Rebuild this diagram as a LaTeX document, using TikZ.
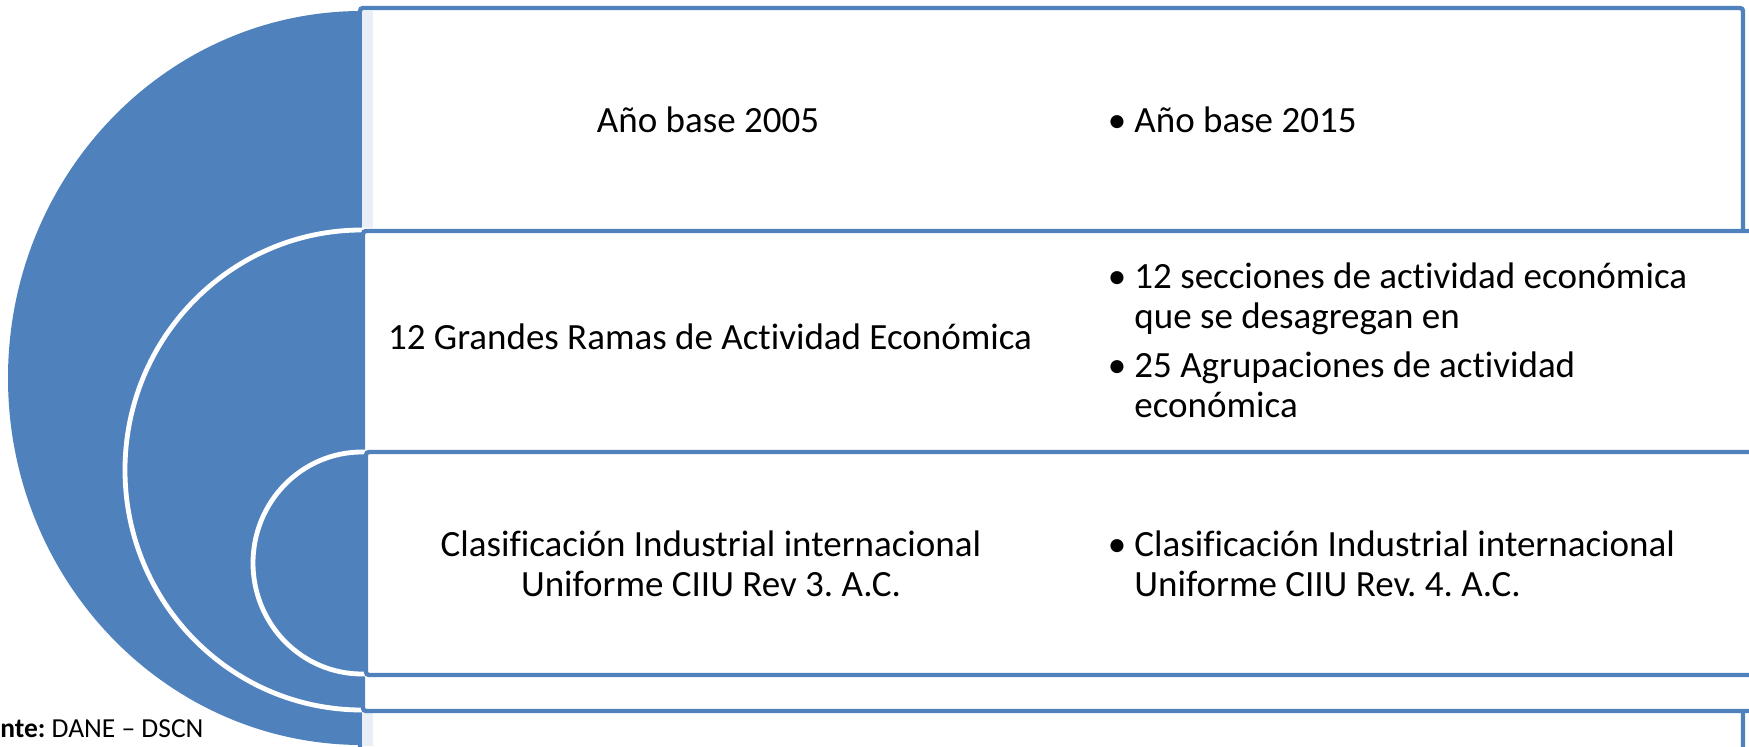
\documentclass[tikz,border=0pt]{standalone}
\usepackage{fontspec}
\setmainfont{Carlito}[Ligatures=NoCommon]
\frenchspacing
\definecolor{dblue}{HTML}{4F81BD}
\definecolor{stripblue}{HTML}{EAEFF7}
\tikzset{
  ring/.style={fill=dblue},
  ringline/.style={fill=dblue,draw=white,line width=2.4pt},
  rowbox/.style={draw=dblue,fill=white,line width=2.2pt,rounded corners=1.5pt},
  txt/.style={font=\fontsize{18.5}{20}\selectfont,inner sep=0pt,align=center},
  bul/.style={font=\fontsize{18.5}{20}\selectfont,inner sep=0pt,align=left,anchor=west}
}
\newcommand{\bl}{\llap{\textbullet\hspace{4pt}}}
\begin{document}
\begin{tikzpicture}[x=0.5pt,y=-0.5pt]
            \useasboundingbox (0,0) rectangle (1749,747);
            \fill[ring] (362,378) ellipse [x radius=354, y radius=367];
            \draw[rowbox] (360,8) rectangle (1743,752);
            \fill[stripblue] (362.5,10.5) rectangle (373,746);
            \draw[ringline] (362,470) ellipse [x radius=237, y radius=240];
            \draw[rowbox] (363,231) rectangle (1765,711);
            \draw[ringline] (362,563) ellipse [x radius=109, y radius=111];
            \draw[rowbox] (366,452) rectangle (1765,675);

            \node[txt] (old1) at (708,120) {Año base 2005};
            \node[txt] (old2) at (710,337) {12 Grandes Ramas de Actividad Económica};
            \node[txt] (old3) at (711,564) {Clasificación Industrial internacional\\ Uniforme CIIU Rev 3. A.C.};

            \node[bul] (new1) at (1134,120) {\bl Año base 2015};
            \node[bul] (new2) at (1134,340.5) {\bl 12 secciones de actividad económica\\ que se desagregan en\\[4.5pt] \bl 25 Agrupaciones de actividad\\ económica};
            \node[bul] (new3) at (1134,564) {\bl Clasificación Industrial internacional\\ Uniforme CIIU Rev. 4. A.C.};

            \node[inner sep=0pt, anchor=base west, font=\fontsize{13.75}{16}\selectfont] (fuente) at (0,737) {\textbf{nte:} DANE – DSCN};
        \end{tikzpicture}
\end{document}
